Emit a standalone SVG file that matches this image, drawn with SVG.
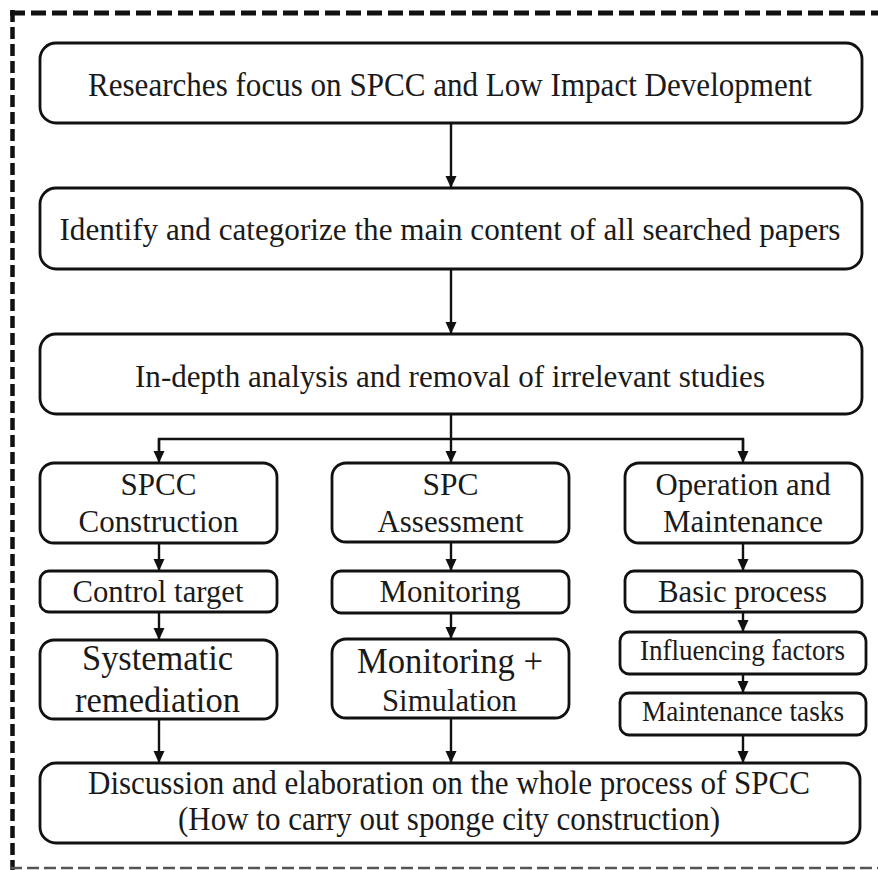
<svg xmlns="http://www.w3.org/2000/svg" width="878" height="870" viewBox="0 0 878 870">
  <style>
    .box { fill: #ffffff; stroke: #111111; stroke-width: 2.8; }
    .t { font-family: "Liberation Serif", "Times New Roman", serif; fill: #1a1a1a; text-anchor: middle; }
    .wire { fill: none; stroke: #111111; stroke-width: 2.4; }
  </style>
  <defs>
    <marker id="head" markerUnits="userSpaceOnUse" markerWidth="12" markerHeight="12" viewBox="0 0 12 12" refX="12" refY="6" orient="auto">
      <path d="M0,0.5 L12,6 L0,11.5 Z" fill="#111111"/>
    </marker>
  </defs>

  <rect width="878" height="870" fill="#ffffff"/>

  <!-- dashed frame -->
  <g id="frame">
    <line x1="10" y1="13" x2="878" y2="13" stroke="#111111" stroke-width="5" stroke-dasharray="15 6"/>
    <line x1="12.5" y1="10" x2="12.5" y2="870" stroke="#111111" stroke-width="4.5" stroke-dasharray="12 5"/>
    <line x1="10" y1="868" x2="878" y2="868" stroke="#555555" stroke-width="2.5" stroke-dasharray="12 5"/>
  </g>

  <g id="n-research">
    <rect class="box" x="40" y="43" width="822" height="80" rx="16"/>
    <text class="t" x="450" y="96" font-size="33" textLength="724" lengthAdjust="spacingAndGlyphs">Researches focus on SPCC and Low Impact Development</text>
  </g>

  <g id="n-identify">
    <rect class="box" x="40" y="188" width="822" height="81" rx="16"/>
    <text class="t" x="450" y="240" font-size="32.5" textLength="781" lengthAdjust="spacingAndGlyphs">Identify and categorize the main content of all searched papers</text>
  </g>

  <g id="n-analysis">
    <rect class="box" x="40" y="334" width="822" height="80" rx="16"/>
    <text class="t" x="450" y="387" font-size="32.5" textLength="630" lengthAdjust="spacingAndGlyphs">In-depth analysis and removal of irrelevant studies</text>
  </g>

  <g id="n-construction">
    <rect class="box" x="40" y="463" width="237" height="80" rx="14"/>
    <text class="t" x="158.5" y="495" font-size="32" textLength="76" lengthAdjust="spacingAndGlyphs">SPCC</text>
    <text class="t" x="158.5" y="532" font-size="32" textLength="160" lengthAdjust="spacingAndGlyphs">Construction</text>
  </g>

  <g id="n-assessment">
    <rect class="box" x="332" y="463" width="237" height="79" rx="14"/>
    <text class="t" x="450.5" y="495" font-size="32" textLength="56" lengthAdjust="spacingAndGlyphs">SPC</text>
    <text class="t" x="450.5" y="532" font-size="32" textLength="146" lengthAdjust="spacingAndGlyphs">Assessment</text>
  </g>

  <g id="n-operation">
    <rect class="box" x="625" y="463" width="237" height="80" rx="14"/>
    <text class="t" x="743" y="495" font-size="32" textLength="175" lengthAdjust="spacingAndGlyphs">Operation and</text>
    <text class="t" x="743" y="532" font-size="32" textLength="160" lengthAdjust="spacingAndGlyphs">Maintenance</text>
  </g>

  <g id="n-control">
    <rect class="box" x="40" y="571" width="237" height="41" rx="9"/>
    <text class="t" x="158" y="602" font-size="32" textLength="171" lengthAdjust="spacingAndGlyphs">Control target</text>
  </g>

  <g id="n-monitoring">
    <rect class="box" x="332" y="571" width="237" height="42" rx="9"/>
    <text class="t" x="450" y="602" font-size="32" textLength="141" lengthAdjust="spacingAndGlyphs">Monitoring</text>
  </g>

  <g id="n-basic">
    <rect class="box" x="625" y="571" width="237" height="41" rx="9"/>
    <text class="t" x="742.5" y="602" font-size="32" textLength="169" lengthAdjust="spacingAndGlyphs">Basic process</text>
  </g>

  <g id="n-systematic">
    <rect class="box" x="40" y="640" width="237" height="79" rx="14"/>
    <text class="t" x="157.5" y="670" font-size="36" textLength="151" lengthAdjust="spacingAndGlyphs">Systematic</text>
    <text class="t" x="157.5" y="712" font-size="36" textLength="165" lengthAdjust="spacingAndGlyphs">remediation</text>
  </g>

  <g id="n-simulation">
    <rect class="box" x="332" y="639" width="237" height="79" rx="14"/>
    <text class="t" x="450" y="673" font-size="36" textLength="186" lengthAdjust="spacingAndGlyphs">Monitoring +</text>
    <text class="t" x="449.5" y="711" font-size="32" textLength="135" lengthAdjust="spacingAndGlyphs">Simulation</text>
  </g>

  <g id="n-influencing">
    <rect class="box" x="620" y="632" width="246" height="42" rx="9"/>
    <text class="t" x="742.5" y="660" font-size="29.5" textLength="205" lengthAdjust="spacingAndGlyphs">Influencing factors</text>
  </g>

  <g id="n-tasks">
    <rect class="box" x="620" y="693" width="246" height="42" rx="9"/>
    <text class="t" x="743" y="721" font-size="29" textLength="202" lengthAdjust="spacingAndGlyphs">Maintenance tasks</text>
  </g>

  <g id="n-discussion">
    <rect class="box" x="40" y="763" width="820" height="80" rx="16"/>
    <text class="t" x="449" y="794" font-size="33" textLength="722" lengthAdjust="spacingAndGlyphs">Discussion and elaboration on the whole process of SPCC</text>
    <text class="t" x="449" y="830" font-size="33" textLength="542" lengthAdjust="spacingAndGlyphs">(How to carry out sponge city construction)</text>
  </g>

  <!-- connectors -->
  <g id="connectors">
    <line class="wire" x1="451" y1="123" x2="451" y2="188" marker-end="url(#head)"/>
    <line class="wire" x1="451" y1="269" x2="451" y2="334" marker-end="url(#head)"/>
    <polyline class="wire" points="451,414 451,439"/>
    <polyline class="wire" points="159,452 159,439 743,439 743,452"/>
    <line class="wire" x1="159" y1="439" x2="159" y2="463" marker-end="url(#head)"/>
    <line class="wire" x1="451" y1="439" x2="451" y2="463" marker-end="url(#head)"/>
    <line class="wire" x1="743" y1="439" x2="743" y2="463" marker-end="url(#head)"/>

    <line class="wire" x1="159" y1="543" x2="159" y2="571" marker-end="url(#head)"/>
    <line class="wire" x1="159" y1="612" x2="159" y2="640" marker-end="url(#head)"/>
    <line class="wire" x1="451" y1="542" x2="451" y2="571" marker-end="url(#head)"/>
    <line class="wire" x1="451" y1="613" x2="451" y2="639" marker-end="url(#head)"/>
    <line class="wire" x1="743" y1="543" x2="743" y2="571" marker-end="url(#head)"/>
    <line class="wire" x1="743" y1="612" x2="743" y2="632" marker-end="url(#head)"/>
    <line class="wire" x1="743" y1="674" x2="743" y2="693" marker-end="url(#head)"/>

    <line class="wire" x1="159" y1="719" x2="159" y2="763" marker-end="url(#head)"/>
    <line class="wire" x1="451" y1="718" x2="451" y2="763" marker-end="url(#head)"/>
    <line class="wire" x1="743" y1="735" x2="743" y2="763" marker-end="url(#head)"/>
  </g>
</svg>
